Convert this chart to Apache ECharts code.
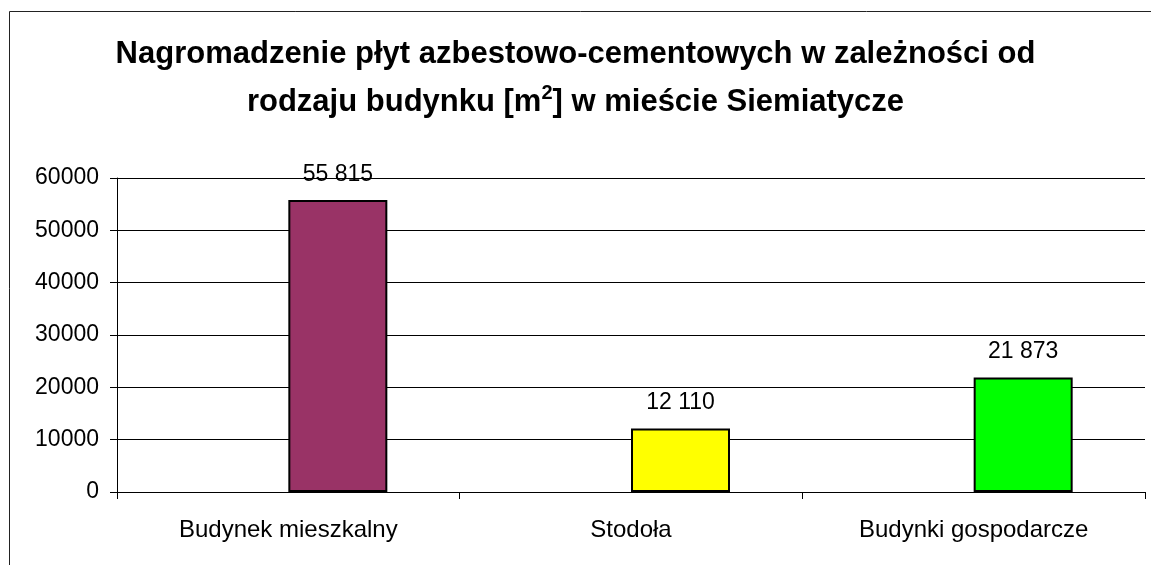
<!DOCTYPE html>
<html>
<head>
<meta charset="UTF-8">
<script src="https://cdn.jsdelivr.net/npm/echarts@6/dist/echarts.min.js"></script>
<style>
    html, body { margin: 0; padding: 0; background: #fff; }
    #chartDiv { width: 1151px; height: 565px; }
</style>
</head>
<body>
<div id="chartDiv"></div>
<script type="text/javascript">
    // dane z wykresu
    var categories = ['Budynek mieszkalny', 'Stodoła', 'Budynki gospodarcze'];
    var values = [55815, 12110, 21873];
    var emptySeries = [null, null, null]; // pusta seria jak w Excelu (przesuwa słupki w prawo)
    var barColors = ['#993366', '#FFFF00', '#00FF00'];
    var yTicks = [0, 10000, 20000, 30000, 40000, 50000, 60000];

    var fontName = '"Liberation Sans", Arial, sans-serif';

    var myChart = echarts.init(document.getElementById('chartDiv'));

    var barData = values.map(function (v, i) {
        return { value: v, itemStyle: { color: barColors[i] } };
    });

    var option = {
        backgroundColor: '#fff',
        animation: false,
        textStyle: { fontFamily: fontName, color: '#000' },
        title: {
            text: 'Nagromadzenie płyt azbestowo-cementowych w zależności od\nrodzaju budynku [m{sup|2}] w mieście Siemiatycze',
            left: 'center',
            top: 25,
            textStyle: {
                fontFamily: fontName,
                fontSize: 31,
                fontWeight: 'bold',
                color: '#000',
                lineHeight: 48,
                rich: {
                    sup: {
                        fontFamily: fontName,
                        fontSize: 20,
                        fontWeight: 'bold',
                        color: '#000',
                        padding: [0, 0, 18, 0]
                    }
                }
            }
        },
        graphic: [
            {   // ramka wykresu
                type: 'rect',
                silent: true,
                shape: { x: 9.5, y: 11.5, width: 1300, height: 700 },
                style: { fill: null, stroke: '#222', lineWidth: 1 }
            }
        ],
        grid: {
            left: 117,
            right: 6,
            top: 178,
            bottom: 73,
            containLabel: false
        },
        xAxis: {
            type: 'category',
            data: categories,
            axisLine: { lineStyle: { color: '#000', width: 1 } },
            axisTick: { show: true, length: 7, lineStyle: { color: '#000' } },
            axisLabel: {
                fontFamily: fontName,
                fontSize: 24,
                color: '#000',
                margin: 26
            }
        },
        yAxis: {
            type: 'value',
            min: yTicks[0],
            max: yTicks[yTicks.length - 1],
            interval: 10000,
            axisLine: { show: true, lineStyle: { color: '#000', width: 1 } },
            axisTick: { show: true, length: 7, lineStyle: { color: '#000' } },
            axisLabel: {
                fontFamily: fontName,
                fontSize: 23,
                color: '#000',
                margin: 18,
                formatter: function (v) { return String(v); }
            },
            splitLine: { show: true, lineStyle: { color: '#000', width: 1 } }
        },
        series: [
            {
                name: 'pusta',
                type: 'bar',
                data: emptySeries,
                barWidth: 99,
                barGap: '0%'
            },
            {
                name: 'Powierzchnia',
                type: 'bar',
                data: barData,
                barWidth: 99,
                barGap: '0%',
                itemStyle: { borderColor: '#000', borderWidth: 2 },
                label: {
                    show: true,
                    position: 'top',
                    distance: 14,
                    fontFamily: fontName,
                    fontSize: 23,
                    color: '#000',
                    formatter: function (p) {
                        return String(p.value).replace(/\B(?=(\d{3})+(?!\d))/g, ' ');
                    }
                }
            }
        ]
    };

    myChart.setOption(option);
</script>
</body>
</html>
